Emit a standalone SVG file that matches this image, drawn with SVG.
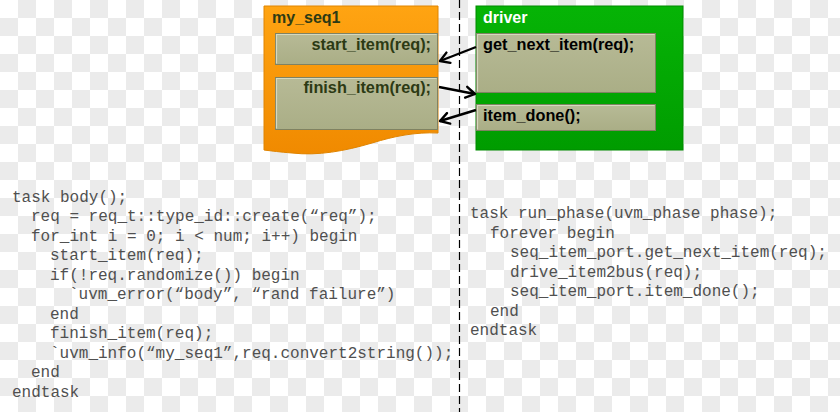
<svg xmlns="http://www.w3.org/2000/svg" width="840" height="412" viewBox="0 0 840 412">
<defs>
  <pattern id="checker" x="0" y="0" width="36" height="36" patternUnits="userSpaceOnUse">
    <rect width="36" height="36" fill="#ffffff"/>
    <rect x="18" y="0" width="18" height="18" fill="#ebebeb"/>
    <rect x="0" y="18" width="18" height="18" fill="#ebebeb"/>
  </pattern>
  <linearGradient id="orangeGrad" x1="0" y1="0" x2="0" y2="1">
    <stop offset="0" stop-color="#ffa412"/>
    <stop offset="1" stop-color="#f08a00"/>
  </linearGradient>
  <linearGradient id="greenGrad" x1="0" y1="0" x2="0" y2="1">
    <stop offset="0" stop-color="#06b406"/>
    <stop offset="1" stop-color="#009c00"/>
  </linearGradient>
  <linearGradient id="olive" x1="0" y1="0" x2="0" y2="1">
    <stop offset="0" stop-color="#b7ba96"/>
    <stop offset="1" stop-color="#aaae86"/>
  </linearGradient>
  <marker id="arrow" markerWidth="14" markerHeight="14" refX="11" refY="7" orient="auto" markerUnits="userSpaceOnUse">
    <path d="M2,1.5 L11,7 L2,12.5" fill="none" stroke="#000" stroke-width="2.4" stroke-linecap="round" stroke-linejoin="round"/>
  </marker>
</defs>
<style>
  .title { font-family: "Liberation Sans", Arial, sans-serif; font-weight: bold; font-size: 16px; }
  .lbl { font-family: "Liberation Sans", Arial, sans-serif; font-weight: bold; font-size: 16.3px; }
  .seqtxt { fill: #2c3a14; }
  .drvtxt { fill: #000000; }
  .inner { fill: url(#olive); stroke: #7f8262; stroke-width: 1; }
  .hl { fill: none; stroke: #d6d8bf; stroke-width: 1.2; }
  .code { font-family: "Liberation Mono", "Courier New", monospace; font-size: 16px; fill: #505050; }
  .conn { stroke: #000; stroke-width: 2.4; fill: none; marker-end: url(#arrow); }
</style>

<rect x="0" y="0" width="840" height="412" fill="url(#checker)"/>

<!-- sequence node -->
<g id="my_seq1">
  <path d="M264,6 H438 V133 C415,132 395,136 372,143 C345,151 318,156 292,153 C280,152 272,151 264,150 Z" fill="url(#orangeGrad)" stroke="#e08400" stroke-width="1"/>
  <text x="272" y="23" class="title seqtxt">my_seq1</text>
  <g id="start_item">
    <rect x="275.5" y="33.5" width="162" height="31" class="inner"/>
    <path d="M276.5,63.5 V34.5 H436.5" class="hl"/>
    <text x="431" y="50" text-anchor="end" class="lbl seqtxt">start_item(req);</text>
  </g>
  <g id="finish_item">
    <rect x="275.5" y="77.5" width="162" height="52" class="inner"/>
    <path d="M276.5,128.5 V78.5 H436.5" class="hl"/>
    <text x="431" y="93" text-anchor="end" class="lbl seqtxt">finish_item(req);</text>
  </g>
</g>

<!-- driver node -->
<g id="driver">
  <rect x="476" y="6" width="207" height="144" fill="url(#greenGrad)" stroke="#008a00" stroke-width="1"/>
  <text x="483" y="23" class="title" fill="#ffffff">driver</text>
  <g id="get_next_item">
    <rect x="476.5" y="33.5" width="179" height="59" class="inner"/>
    <path d="M477.5,91.5 V34.5 H654.5" class="hl"/>
    <text x="483" y="50" class="lbl drvtxt">get_next_item(req);</text>
  </g>
  <g id="item_done">
    <rect x="476.5" y="104.5" width="179" height="26" class="inner"/>
    <path d="M477.5,129.5 V105.5 H654.5" class="hl"/>
    <text x="483" y="121" class="lbl drvtxt">item_done();</text>
  </g>
</g>

<!-- divider -->
<g id="divider">
  <line x1="459.5" y1="0" x2="459.5" y2="412" stroke="#000" stroke-width="1.2" stroke-dasharray="8 4"/>
</g>

<!-- connectors -->
<g id="connectors">
  <line x1="476" y1="47" x2="440" y2="61" class="conn"/>
  <line x1="439" y1="87" x2="475" y2="94" class="conn"/>
  <line x1="476" y1="110" x2="440" y2="121" class="conn"/>
</g>

<!-- sequence code -->
<g id="seq_code" class="code">
  <text x="12" y="201.5">task body();</text>
  <text x="31" y="221">req = req_t::type_id::create(“req”);</text>
  <text x="31" y="240.5">for_int i = 0; i &lt; num; i++) begin</text>
  <text x="50" y="260">start_item(req);</text>
  <text x="50" y="279.5">if(!req.randomize()) begin</text>
  <text x="69" y="299">`uvm_error(“body”, “rand failure”)</text>
  <text x="50" y="318.5">end</text>
  <text x="50" y="338">finish_item(req);</text>
  <text x="50" y="357.5">`uvm_info(“my_seq1”,req.convert2string());</text>
  <text x="31" y="377">end</text>
  <text x="12" y="396.5">endtask</text>
</g>

<!-- driver code -->
<g id="drv_code" class="code">
  <text x="470" y="218">task run_phase(uvm_phase phase);</text>
  <text x="490" y="237.5">forever begin</text>
  <text x="510" y="257">seq_item_port.get_next_item(req);</text>
  <text x="510" y="276.5">drive_item2bus(req);</text>
  <text x="510" y="296">seq_item_port.item_done();</text>
  <text x="490" y="315.5">end</text>
  <text x="470" y="335">endtask</text>
</g>
</svg>
